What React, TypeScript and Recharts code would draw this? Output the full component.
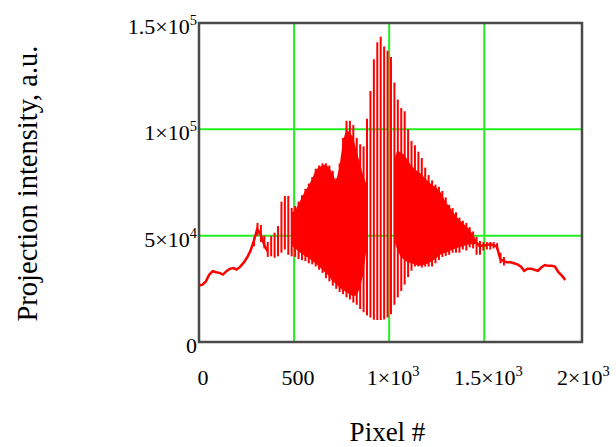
import React from 'react';
import { ComposedChart, XAxis, YAxis, CartesianGrid, Bar, Area, Line, ReferenceArea } from 'recharts';

// Sampling grid: pixel number of each sample
const SAMPLE_COUNT = 108;
const PIXEL_STEP = 18;

// Values in units of 1e3 (a.u.)
// Thin noisy profile at both wings
const tailLeftStart = 0;
const tailLeft = [26.5, 27.0, 28.5, 31.7, 33.3, 32.8, 32.5, 31.7, 33.3, 34.4, 34.8, 34.1, 35.3, 37.2, 39.6, 42.7, 47.4, 53.0, 50.6, 45.9, 42.7];
const tailRightStart = 81;
const tailRight = [47, 45, 45.5, 45.5, 46, 45.5, 45, 39, 38, 37.5, 37.5, 37, 36.5, 35.5, 33.5, 34.5, 34.5, 34, 33.5, 35, 36.2, 35.8, 35.8, 35.5, 32.8, 31.2, 29.2];

// Oscillation extent (vertical hatch strokes)
const barStart = 16;
const barHigh = [
  49, 56, 55, 50, 47, 49.8, 51.4, 54.5, 66, 68.7,
  68.7, 63, 64, 66, 69, 72, 74.5, 77.5, 81.5, 83,
  84, 84, 83, 80.5, 77, 84, 96, 104, 104, 102,
  96, 93, 92, 105, 118, 133, 141, 143.5, 139, 137,
  134, 122, 114, 110, 108.5, 100, 94.5, 92.5, 89.5, 86.5,
  82, 78.5, 76, 74, 73, 71, 68, 64.5, 63, 61,
  58.5, 57, 56, 54, 52, 49.5, 47.5, 47, 47, 47,
  47, 46.5, 42, 40,
];
const barLow = [
  45, 50, 47, 44, 40, 40.3, 39.6, 40.3, 42, 43.5,
  41, 40.3, 40, 39, 38.5, 38, 37, 36.5, 35.5, 34,
  32.5, 30, 28.5, 26.5, 25, 23.5, 22.5, 21, 20, 18.5,
  17.5, 15.5, 14, 12.5, 11.5, 10.5, 10.4, 10.4, 10.6, 11.5,
  13, 17.5, 21, 24, 27, 30.5, 33.5, 35.5, 35.5, 35,
  35.5, 35.5, 35.5, 37, 38.5, 40, 40.5, 41, 42, 42,
  42, 43.5, 43, 44.5, 44, 41, 41, 43, 43.5, 43.5,
  44, 43.5, 37, 36,
];

// Densely filled band
const solidLeftStart = 27;
const solidLeftHigh = [60.9, 61.7, 64.5, 68, 71, 73.5, 76.5, 80.5, 82.2, 83, 83.5, 82, 79.5, 75.5, 82, 94, 100, 98.5, 96.5, 90, 84, 78, 74];
const solidLeftLow = [45.1, 44.3, 42.5, 41.5, 40.4, 39.5, 38.2, 37, 35.6, 34, 32.5, 31, 28.5, 27.5, 25.5, 24.5, 23.5, 22.5, 21.5, 22, 25, 32, 45];
const solidRightStart = 57;
const solidRightHigh = [86, 90, 89, 88, 85.5, 83, 81.5, 80, 79, 77, 75.5, 74, 73, 71.5, 69.5, 66, 64, 61.5, 59.5, 57.5, 56, 54.5, 53, 50.5, 48];
const solidRightLow = [48, 43, 40, 38.5, 37.5, 37, 36.5, 36, 36, 36.5, 37, 38, 39, 40.5, 41.5, 42, 42.5, 43.5, 44, 44.5, 45, 45.5, 46, 46, 46];

const xTicks = [0, 500, 1000, 1500, 2000];
const xTickBase = ['0', '500', '1×10', '1.5×10', '2×10'];
const xTickExp = ['', '', '3', '3', '3'];
const yTicks = [0, 50000, 100000, 150000];
const yTickBase = ['0', '5×10', '1×10', '1.5×10'];
const yTickExp = ['', '4', '5', '5'];

const UNIT = 1000;
const FONT = '"Liberation Serif", "Times New Roman", Times, serif';
const RED = '#ff0000';
const GREEN = '#22ee22';

const pick = (arr: number[], start: number, i: number) => {
  const k = i - start;
  return k >= 0 && k < arr.length ? arr[k] : null;
};

const rows = Array.from({ length: SAMPLE_COUNT }, (_, i) => {
  const tl = pick(tailLeft, tailLeftStart, i) ?? pick(tailRight, tailRightStart, i);
  const bh = pick(barHigh, barStart, i);
  const bl = pick(barLow, barStart, i);
  const sh = pick(solidLeftHigh, solidLeftStart, i) ?? pick(solidRightHigh, solidRightStart, i);
  const sl = pick(solidLeftLow, solidLeftStart, i) ?? pick(solidRightLow, solidRightStart, i);
  return {
    pixel: i * PIXEL_STEP,
    tail: tl == null ? null : tl * UNIT,
    bar: bh == null || bl == null ? null : [bl * UNIT, bh * UNIT],
    solid: sh == null || sl == null ? null : [sl * UNIT, sh * UNIT],
  };
});

function XTick(props: any) {
  const { x, y, payload } = props;
  const idx = xTicks.indexOf(payload.value);
  const base = idx >= 0 ? xTickBase[idx] : String(payload.value);
  const exp = idx >= 0 ? xTickExp[idx] : '';
  return (
    <text x={x + 4} y={y + 35} textAnchor="middle" fontFamily={FONT} fontSize={22} fill="#000">
      {base}
      {exp ? <tspan dy={-9} fontSize={14.5}>{exp}</tspan> : null}
    </text>
  );
}

function YTick(props: any) {
  const { x, y, payload } = props;
  const idx = yTicks.indexOf(payload.value);
  const base = idx >= 0 ? yTickBase[idx] : String(payload.value);
  const exp = idx >= 0 ? yTickExp[idx] : '';
  return (
    <text x={x + 6} y={y + 11} textAnchor="end" fontFamily={FONT} fontSize={22} fill="#000">
      {base}
      {exp ? <tspan dy={-9} fontSize={14.5}>{exp}</tspan> : null}
    </text>
  );
}

const XTitle = (props: any) => {
  const vb = props.viewBox || {};
  return (
    <text x={vb.x + vb.width / 2 - 3} y={vb.y + 99} textAnchor="middle" fontFamily={FONT} fontSize={27} fill="#000">
      Pixel #
    </text>
  );
};

const YTitle = (props: any) => {
  const vb = props.viewBox || {};
  const cx = 36.5;
  const cy = vb.y + vb.height / 2 + 1;
  return (
    <text x={cx} y={cy} transform={`rotate(-90, ${cx}, ${cy})`} textAnchor="middle" fontFamily={FONT} fontSize={28.5} fill="#000">
      Projection intensity, a.u.
    </text>
  );
};

export default function App() {
  return (
    <div style={{ position: 'absolute', left: 0, top: 0, width: 616, height: 447, background: '#fff' }}>
      <ComposedChart
        width={616}
        height={447}
        data={rows}
        margin={{ top: 23, right: 34, bottom: 0, left: 0 }}
        barGap={0}
        barCategoryGap={0}
      >
        <CartesianGrid
          stroke={GREEN}
          strokeWidth={2}
          verticalValues={[500, 1000, 1500]}
          horizontalValues={[50000, 100000]}
        />
        <XAxis
          dataKey="pixel"
          type="number"
          domain={[0, 2014]}
          ticks={xTicks}
          interval={0}
          axisLine={false}
          tickLine={false}
          height={105}
          tick={<XTick />}
          label={XTitle}
        />
        <YAxis
          type="number"
          domain={[0, 150000]}
          ticks={yTicks}
          interval={0}
          axisLine={false}
          tickLine={false}
          width={199}
          tick={<YTick />}
          label={YTitle}
        />
        <Area
          dataKey="solid"
          type="linear"
          fill={RED}
          fillOpacity={1}
          stroke="none"
          dot={false}
          activeDot={false}
          isAnimationActive={false}
        />
        <Bar dataKey="bar" fill={RED} barSize={2} isAnimationActive={false} />
        <Line
          dataKey="tail"
          type="linear"
          stroke={RED}
          strokeWidth={2.5}
          dot={false}
          activeDot={false}
          isAnimationActive={false}
        />
        <ReferenceArea x1={0} x2={2014} y1={0} y2={150000} fill="none" stroke="#4a4a4a" strokeWidth={2.5} ifOverflow="visible" />
      </ComposedChart>
    </div>
  );
}
